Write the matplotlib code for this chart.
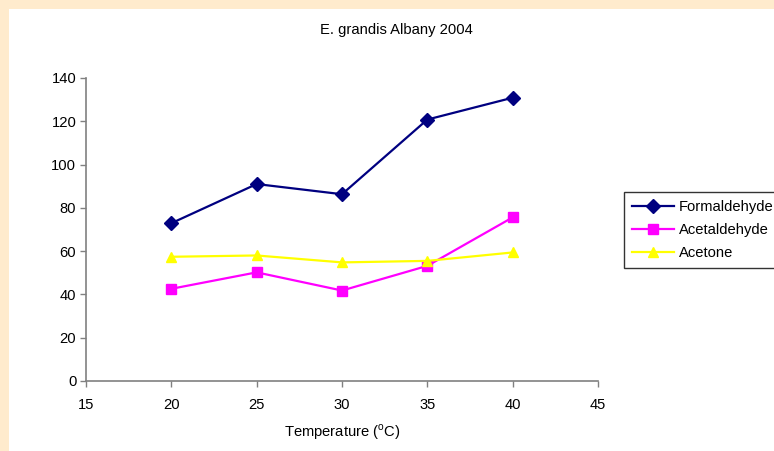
import matplotlib
matplotlib.use('Agg')
import matplotlib.pyplot as plt

plt.rcParams['font.family'] = ['Liberation Sans', 'DejaVu Sans']
plt.rcParams['mathtext.fontset'] = 'custom'
plt.rcParams['mathtext.rm'] = 'Liberation Sans'

# data
temps = [20, 25, 30, 35, 40]
formaldehyde = [72.9, 91.0, 86.3, 120.8, 130.9]
acetaldehyde = [42.6, 50.2, 41.8, 53.2, 75.6]
acetone = [57.4, 58.0, 54.8, 55.5, 59.4]
xticks = [15, 20, 25, 30, 35, 40, 45]
yticks = [0, 20, 40, 60, 80, 100, 120, 140]

fs = 10.6

fig = plt.figure(figsize=(7.74, 4.51), dpi=100)
fig.patch.set_facecolor('#FFEBCD')

# white panel inside the peach border
bg = fig.add_axes([9 / 774, 0, 1 - 9 / 774, 1 - 9 / 451], zorder=-1)
bg.set_facecolor('white')
bg.set_xticks([])
bg.set_yticks([])
for s in bg.spines.values():
    s.set_visible(False)

ax = fig.add_axes([86 / 774, 70 / 451, 512 / 774, 303 / 451], zorder=1)
ax.set_facecolor('none')

ax.plot(temps, formaldehyde, color='#000080', marker='D', markersize=7,
        linewidth=1.6, label='Formaldehyde', clip_on=False)
ax.plot(temps, acetaldehyde, color='#FF00FF', marker='s', markersize=7.5,
        linewidth=1.6, label='Acetaldehyde', clip_on=False)
ax.plot(temps, acetone, color='#FFFF00', marker='^', markersize=7.5,
        linewidth=1.6, label='Acetone', clip_on=False)

ax.set_xlim(15, 45)
ax.set_ylim(0, 140)
ax.set_xticks(xticks)
ax.set_yticks(yticks)
ax.tick_params(direction='out', length=4, width=1, color='#808080',
               labelsize=fs)
ax.tick_params(axis='x', pad=8)
ax.tick_params(axis='y', pad=3)
for s in ['top', 'right']:
    ax.spines[s].set_visible(False)
for s in ['left', 'bottom']:
    ax.spines[s].set_color('#808080')
    ax.spines[s].set_linewidth(1.2)

ax.set_xlabel(r'Temperature ($^{\rm o}$C)', fontsize=fs, labelpad=8)
fig.text(396 / 774, 1 - 30 / 451, 'E. grandis Albany 2004', ha='center',
         va='center', fontsize=fs)

leg = ax.legend(loc='upper left', bbox_to_anchor=(624 / 774, 1 - 192 / 451),
                bbox_transform=fig.transFigure, fontsize=fs, frameon=True,
                fancybox=False, edgecolor='black', handlelength=2.85,
                borderpad=0.55, labelspacing=0.6, handletextpad=0.3,
                borderaxespad=0)
leg.get_frame().set_linewidth(1.0)

fig.savefig('out.png', dpi=100, facecolor=fig.get_facecolor())
